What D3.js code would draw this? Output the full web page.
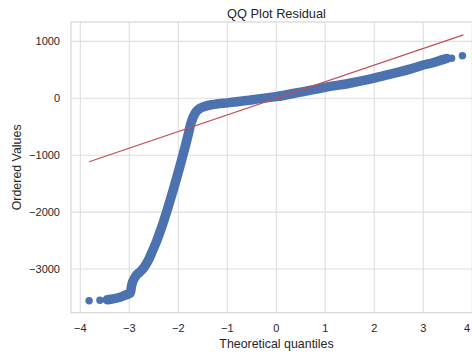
<!DOCTYPE html>
<html><head><meta charset="utf-8">
<script src="https://cdn.jsdelivr.net/npm/d3@7"></script>
<style>body{margin:0;background:#fff;} svg{display:block;font-family:"Liberation Sans",Arial,sans-serif;}</style>
</head><body>
<script>
// Theoretical quantiles and ordered values
const tailLowQ = [-3.82, -3.60];
const tailLowV = [-3557, -3548];
const bandQ = [-3.45, -3.33, -3.19, -3.08, -2.98, -2.95, -2.88, -2.78, -2.71, -2.61, -2.54, -2.44, -2.37, -2.31, -2.20, -2.10, -2.03, -1.97, -1.92, -1.84, -1.79, -1.75, -1.70, -1.66, -1.60, -1.49, -1.35, -1.22, -1.00, -0.81, -0.60, -0.40, -0.20, 0.00, 0.50, 1.00, 1.50, 1.91, 2.20, 2.52, 2.80, 3.00, 3.20, 3.40, 3.48];
const bandV = [-3540, -3525, -3497, -3460, -3420, -3280, -3140, -3050, -2985, -2845, -2710, -2505, -2340, -2190, -1890, -1600, -1390, -1205, -1045, -785, -610, -465, -340, -268, -205, -150, -118, -100, -80, -60, -40, -15, 8, 30, 110, 193, 265, 335, 400, 465, 530, 585, 625, 680, 700];
const tailHighQ = [3.58, 3.80];
const tailHighV = [705, 748];
const fitQ = [-3.82, 3.82];
const fitV = [-1115, 1115];
const xTicks = [-4, -3, -2, -1, 0, 1, 2, 3, 4];
const yTicks = [-3000, -2000, -1000, 0, 1000];
const title = "QQ Plot Residual";
const xLabel = "Theoretical quantiles";
const yLabel = "Ordered Values";

const W = 472, H = 352;
const L = 71, T = 22, B = 312.7, R = 482;
const svg = d3.select("body").append("svg").attr("width", W).attr("height", H);
const x = d3.scaleLinear().domain([-4.19, 4.2]).range([L, R]);
const y = d3.scaleLinear().domain([-3768, 1341]).range([B, T]);
const fmt = d => d < 0 ? "\u2212" + Math.abs(d) : String(d);

const grid = "#dedede";
svg.append("rect").attr("x", L).attr("y", T).attr("width", R - L).attr("height", B - T)
  .attr("fill", "#fff");
svg.append("g").selectAll("line").data(xTicks).join("line")
  .attr("x1", d => x(d)).attr("x2", d => x(d)).attr("y1", T).attr("y2", B)
  .attr("stroke", grid).attr("stroke-width", 1.1);
svg.append("g").selectAll("line").data(yTicks).join("line")
  .attr("y1", d => y(d)).attr("y2", d => y(d)).attr("x1", L).attr("x2", R)
  .attr("stroke", grid).attr("stroke-width", 1.1);
svg.append("rect").attr("x", L).attr("y", T).attr("width", R - L).attr("height", B - T)
  .attr("fill", "none").attr("stroke", "#d6d6d6").attr("stroke-width", 1.2);

// tick labels
svg.append("g").selectAll("text").data(xTicks).join("text")
  .attr("x", d => Math.min(x(d), 467)).attr("y", 332).attr("text-anchor", "middle")
  .attr("font-size", 11).attr("fill", "#262626").text(fmt);
svg.append("g").selectAll("text").data(yTicks).join("text")
  .attr("x", 60).attr("y", d => y(d) + 4).attr("text-anchor", "end")
  .attr("font-size", 11).attr("fill", "#262626").text(fmt);

svg.append("text").attr("x", (L + R) / 2).attr("y", 347.5).attr("text-anchor", "middle")
  .attr("font-size", 12.4).attr("fill", "#262626").text(xLabel);
svg.append("text").attr("transform", `translate(21,${(T + B) / 2}) rotate(-90)`)
  .attr("text-anchor", "middle").attr("font-size", 12.4).attr("fill", "#262626").text(yLabel);
svg.append("text").attr("x", 276.5).attr("y", 17.5).attr("text-anchor", "middle")
  .attr("font-size", 12.8).attr("fill", "#262626").text(title);

// data
const blue = "#4c72b0";
const plot = svg.append("g");
const band = bandQ.map((q, i) => [q, bandV[i]]);
plot.append("path").datum(band)
  .attr("d", d3.line().x(d => x(d[0])).y(d => y(d[1])).curve(d3.curveMonotoneX))
  .attr("fill", "none").attr("stroke", blue).attr("stroke-width", 9.5)
  .attr("stroke-linecap", "round").attr("stroke-linejoin", "round");
const dots = tailLowQ.map((q, i) => [q, tailLowV[i]])
  .concat(band)
  .concat(tailHighQ.map((q, i) => [q, tailHighV[i]]));
plot.selectAll("circle").data(dots).join("circle")
  .attr("cx", d => x(d[0])).attr("cy", d => y(d[1])).attr("r", 3.7).attr("fill", blue);

svg.append("path").datum(fitQ.map((q, i) => [q, fitV[i]]))
  .attr("d", d3.line().x(d => x(d[0])).y(d => y(d[1])))
  .attr("stroke", "#c44e52").attr("stroke-width", 1.3).attr("fill", "none");
</script>
</body></html>
